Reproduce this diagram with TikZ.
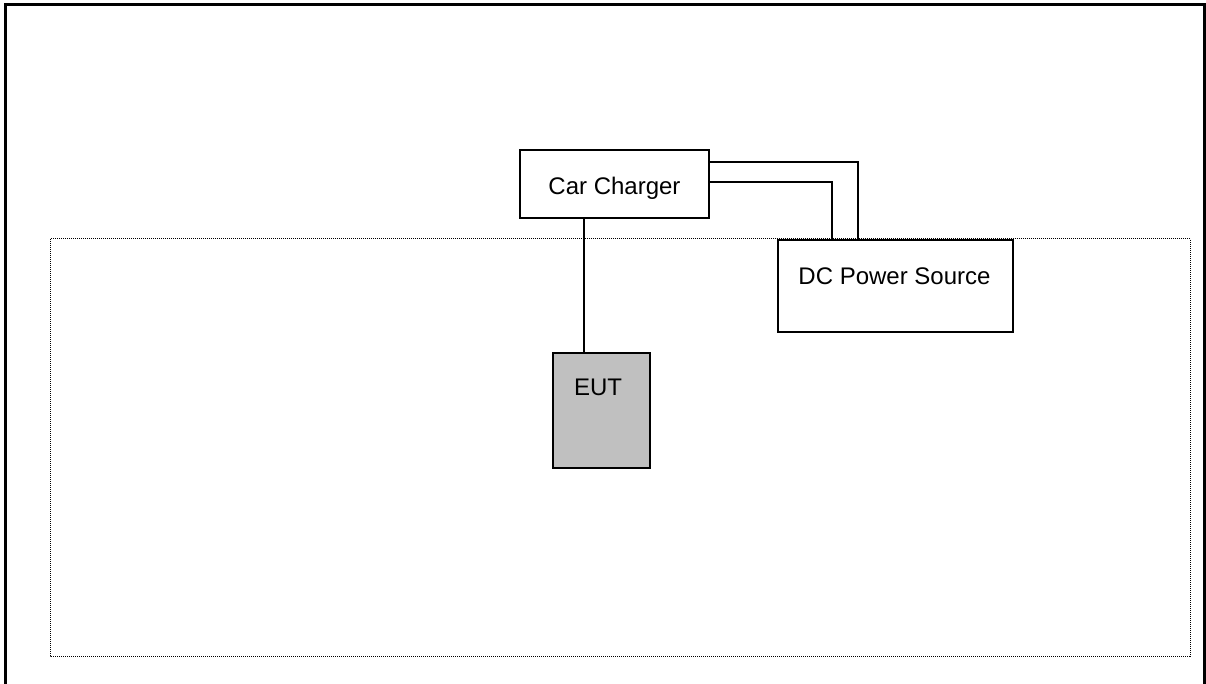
\documentclass[tikz,border=0pt]{standalone}
\usepackage{fontspec}
\setmainfont{Liberation Sans}
\begin{document}
\begin{tikzpicture}[x=1pt,y=-1pt,
  box/.style={draw=black,line width=2pt,fill=white,inner sep=0pt,anchor=north west},
  lbl/.style={font=\fontsize{24}{28}\selectfont},
  wire/.style={draw=black,line width=2pt},
  frame/.style={draw=black,line width=3pt},
  zone/.style={draw=black,line width=1pt,dash pattern=on 1pt off 1pt}]
\useasboundingbox (0,0) rectangle (1206,684);
% outer frame
\coordinate (f1) at (5,684);
\coordinate (f2) at (5,4.5);
\coordinate (f3) at (1204.5,4.5);
\coordinate (f4) at (1204.5,684);
\draw[frame] (f1) -- (f2) -- (f3) -- (f4);
% dotted zone
\coordinate (z1) at (50,239);
\coordinate (z2) at (1190,656);
\draw[zone] (z1) rectangle (z2);
% boxes
\node[box,minimum width=189pt,minimum height=68pt,
  label={[lbl,yshift=-4pt]center:Car Charger}] (cc) at (519,149) {};
\node[box,minimum width=235pt,minimum height=92pt,
  label={[lbl,yshift=10pt,xshift=-1pt]center:DC Power Source}] (dc) at (777,239) {};
\node[box,fill={rgb,255:red,192;green,192;blue,192},minimum width=97pt,minimum height=115pt,
  label={[lbl,yshift=23pt,xshift=-3.5pt]center:EUT}] (eut) at (552,352) {};
% wires
\draw[wire] (cc.east |- 0,162) -| (dc.north -| 858,0);
\draw[wire] (cc.east |- 0,182) -| (dc.north -| 832,0);
\draw[wire] (cc.south -| 584,0) -- (eut.north -| 584,0);
\end{tikzpicture}
\end{document}
